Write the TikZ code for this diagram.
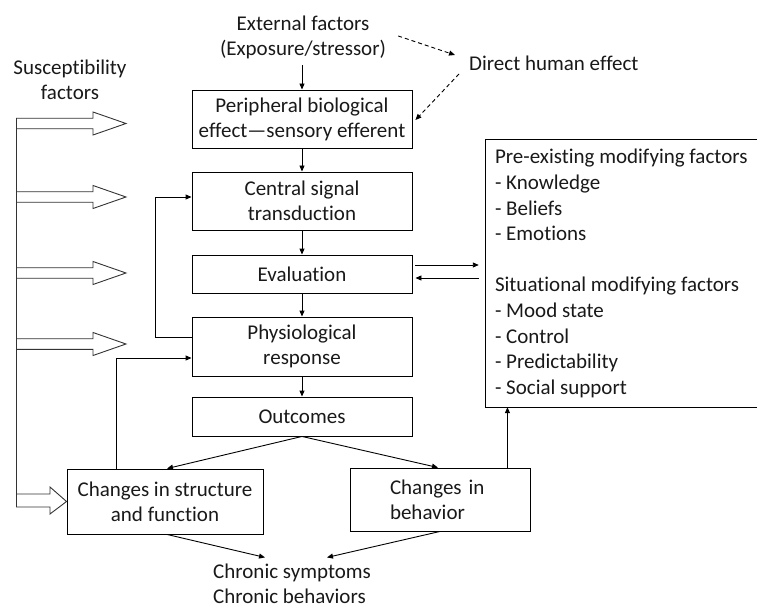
\documentclass[tikz,border=0pt]{standalone}
\usepackage{fontspec}
\setmainfont{Carlito}[Ligatures=NoCommon]
\usetikzlibrary{arrows.meta,calc}
\begin{document}
\begin{tikzpicture}[x=1bp,y=-1bp,
  every node/.style={font=\fontsize{21bp}{25bp}\selectfont, inner sep=0pt, text=black!90},
  box/.style={draw, line width=0.9pt, align=center},
  arr/.style={-{Triangle[length=6bp,width=5bp]}, line width=0.9pt},
  dasharr/.style={arr, dashed, dash pattern=on 4bp off 3bp},
  blk/.style={line width=0.9pt, draw=black!80}
]
\useasboundingbox (0,0) rectangle (757,607);

% nodes
\node (ext) [align=center] at (303,37.5) {External factors\\(Exposure/stressor)};
\node (sus) [align=center] at (70,80) {Susceptibility\\factors};
\node (direct) [anchor=west] at (469,63) {Direct human effect};

\node (peri) [box, minimum width=220bp, minimum height=58bp] at (302,119) {Peripheral biological\\effect---sensory efferent};
\node (cent) [box, minimum width=220bp, minimum height=58bp] at (302,201) {Central signal\\transduction};
\node (eval) [box, minimum width=220bp, minimum height=38bp] at (302,274) {Evaluation};
\node (phys) [box, minimum width=220bp, minimum height=59bp] at (302,346.5) {Physiological\\response};
\node (out) [box, minimum width=220bp, minimum height=39bp] at (302,416.5) {Outcomes};
\node (struct) [box, minimum width=196bp, minimum height=65bp] at (165,501.5) {Changes in structure\\and function};
\node (behav) [box, align=left, text width=100bp, minimum width=180bp, minimum height=63bp] at (440,499.5) {Changes in\\behavior};
\node (chron) [align=left, anchor=west] at (213,583.5) {Chronic symptoms\\Chronic behaviors};

\node (mod) [minimum width=271bp, minimum height=267bp] at (621.5,273.5) {};
\draw[line width=0.9pt] (mod.north east) -- (mod.north west) -- (mod.south west) -- (mod.south east);
\node (modt) [align=left, anchor=west, font=\fontsize{21bp}{25.6bp}\selectfont] at ($(mod.west)+(9,0)$)
 {Pre-existing modifying factors\\- Knowledge\\- Beliefs\\- Emotions\\[25.6bp]Situational modifying factors\\- Mood state\\- Control\\- Predictability\\- Social support};

\coordinate (c1) at ($(chron.north west)+(52,-6)$);
\coordinate (c2) at ($(chron.north west)+(114,-6)$);
\coordinate (bt) at ($(behav.north east)+(-23,0)$);
\coordinate (evr) at (mod.west |- eval.east);

% main flow
\draw[arr] ($(ext.south)+(-1,6)$) -- (peri.north);
\draw[arr] (peri.south) -- (cent.north);
\draw[arr] (cent.south) -- (eval.north);
\draw[arr] (eval.south) -- (phys.north);
\draw[arr] (phys.south) -- (out.north);
\draw[arr] (out.south) -- ($(struct.north)+(2,0)$);
\draw[arr] (out.south) -- ($(behav.north)+(-2,0)$);
\draw[arr] ($(struct.south)+(2,0)$) -- (c1);
\draw[arr] (behav.south) -- (c2);

% feedback loops
\draw[arr] ($(phys.west)+(0,-9.5)$) -- ++(-36,0) |- ($(cent.west)+(0,-4)$);
\draw[arr] ($(struct.north west)+(50,0)$) |- ($(phys.west)+(0,11.5)$);

% evaluation <-> modifying factors
\draw[arr] ($(eval.east)+(3,-9)$) -- ($(evr)+(-7,-9)$);
\draw[arr] ($(evr)+(-7,4)$) -- ($(eval.east)+(3,4)$);
\draw[arr] (bt) -- (bt |- mod.south);

% dashed
\draw[dasharr] ($(ext.east)+(12,-1.5)$) -- ($(direct.west)+(-14,-8)$);
\draw[dasharr] ($(direct.west)+(-10,11)$) -- ($(peri.east)+(3,1)$);

% susceptibility block arrows
\draw[blk] (16,118) -- (16,507);
\foreach \y in {123.5,197,273,344}{
  \draw[blk] (16,\y-5.3) -- (93,\y-5.3) -- (93,\y-11.5) -- (126,\y) -- (93,\y+11.5) -- (93,\y+5.3) -- (16,\y+5.3);
}
\draw[blk] (16,494) -- (50,494) -- (50,487) -- (struct.west) -- (50,514) -- (50,507) -- (16,507);
\end{tikzpicture}
\end{document}
